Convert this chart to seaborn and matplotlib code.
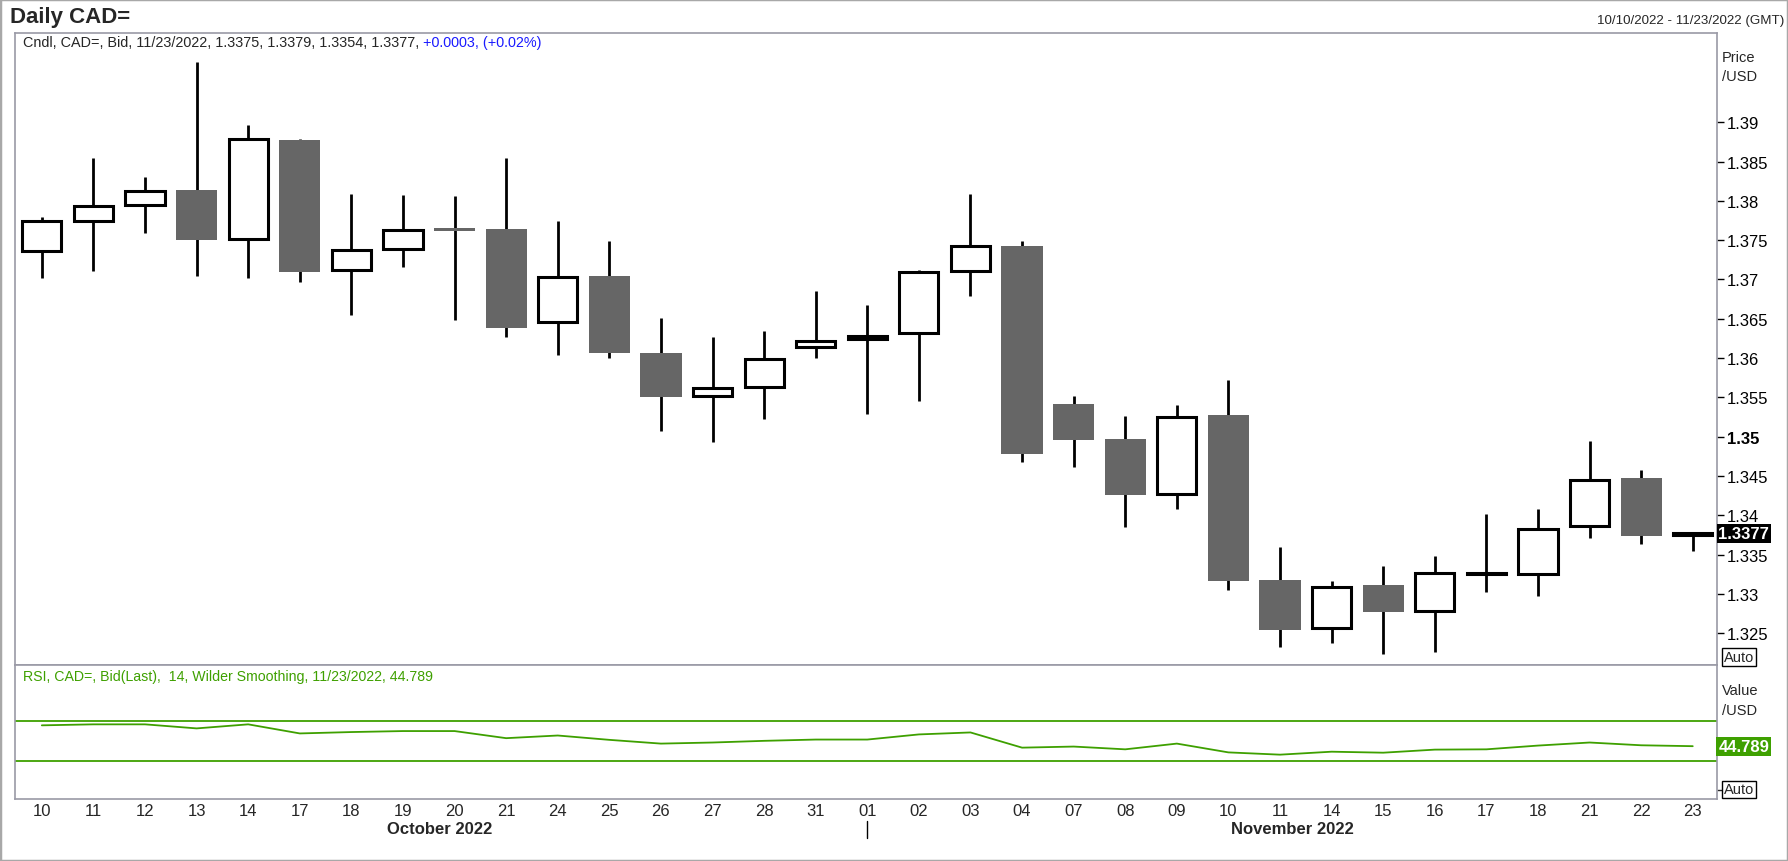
import numpy as np
import pandas as pd
import seaborn as sns
import matplotlib
matplotlib.use("Agg")
import matplotlib.pyplot as plt
import matplotlib.transforms as mtransforms
from matplotlib.lines import Line2D
from matplotlib.patches import Rectangle

# =========================
# DATA
# =========================
days = ["10", "11", "12", "13", "14", "17", "18", "19", "20", "21", "24", "25", "26", "27", "28", "31",
        "01", "02", "03", "04", "07", "08", "09", "10", "11", "14", "15", "16", "17", "18", "21", "22", "23"]

opens = [1.3736, 1.3775, 1.3795, 1.3814, 1.3751, 1.3877, 1.3712, 1.3739, 1.3766, 1.3764, 1.3646,
         1.3704, 1.3606, 1.3552, 1.3563, 1.3614, 1.3624, 1.3632, 1.3711, 1.3743, 1.3542, 1.3497,
         1.3427, 1.3527, 1.3318, 1.3256, 1.3311, 1.3278, 1.3325, 1.3325, 1.3386, 1.3448, 1.3375]
highs = [1.3780, 1.3855, 1.3830, 1.3977, 1.3897, 1.3879, 1.3809, 1.3808, 1.3806, 1.3854, 1.3775,
         1.3749, 1.3651, 1.3627, 1.3635, 1.3685, 1.3668, 1.3712, 1.3809, 1.3749, 1.3552, 1.3526,
         1.3540, 1.3572, 1.3360, 1.3316, 1.3335, 1.3348, 1.3401, 1.3408, 1.3495, 1.3457, 1.3379]
lows = [1.3702, 1.3711, 1.3759, 1.3705, 1.3702, 1.3697, 1.3655, 1.3716, 1.3649, 1.3627, 1.3604,
        1.3600, 1.3507, 1.3493, 1.3522, 1.3600, 1.3529, 1.3546, 1.3679, 1.3468, 1.3462, 1.3385,
        1.3408, 1.3305, 1.3232, 1.3237, 1.3224, 1.3226, 1.3302, 1.3297, 1.3371, 1.3363, 1.3354]
closes = [1.3775, 1.3794, 1.3812, 1.3750, 1.3879, 1.3709, 1.3737, 1.3763, 1.3762, 1.3638, 1.3703,
          1.3606, 1.3551, 1.3562, 1.3599, 1.3622, 1.3628, 1.3709, 1.3743, 1.3478, 1.3496, 1.3426,
          1.3525, 1.3317, 1.3254, 1.3309, 1.3277, 1.3326, 1.3326, 1.3383, 1.3445, 1.3374, 1.3377]

rsi = [65.9, 66.9, 66.9, 62.8, 66.9, 57.7, 59.1, 60.1, 60.1, 52.9, 55.6, 51.2, 47.4, 48.5, 50.2, 51.5,
       51.5, 56.7, 58.7, 43.3, 44.4, 41.6, 47.4, 38.5, 36.2, 39.2, 38.2, 41.3, 41.6, 45.4, 48.5, 45.7, 44.789]

price_ticks = [1.325, 1.33, 1.335, 1.34, 1.345, 1.35, 1.355, 1.36, 1.365, 1.37, 1.375, 1.38, 1.385, 1.39]
rsi_levels = [70, 30]

df = pd.DataFrame({"day": days, "open": opens, "high": highs, "low": lows, "close": closes, "rsi": rsi})
df["idx"] = np.arange(len(df))
df["up"] = df["close"] >= df["open"]

# =========================
# STYLE
# =========================
sns.set_style("white")
plt.rcParams["font.family"] = ["Liberation Sans", "DejaVu Sans"]

W, H = 1788, 862
fig = plt.figure(figsize=(W / 100, H / 100), dpi=100)
frame_col = "#9a9aa6"
green = "#3ea000"


def fx(px):
    return px / W


def fy(py):
    return 1 - py / H


ax = fig.add_axes([fx(15), fy(666), fx(1717 - 15), (666 - 34) / H])
ax2 = fig.add_axes([fx(15), fy(800), fx(1717 - 15), (800 - 666) / H], sharex=ax)

# =========================
# CANDLES
# =========================
up = df[df["up"]]
dn = df[~df["up"]]
ax.vlines(df["idx"], df["low"], df["high"], color="black", lw=2.0, zorder=1)
ax.bar(up["idx"], up["close"] - up["open"], bottom=up["open"], width=0.76,
       facecolor="white", edgecolor="black", linewidth=2.2, zorder=2)
ax.bar(dn["idx"], dn["close"] - dn["open"], bottom=dn["open"], width=0.8,
       color="#666666", linewidth=0, zorder=2)

ax.set_xlim(-0.52, 32.47)
ax.set_ylim(1.32095, 1.40136)
ax.yaxis.tick_right()
ax.set_yticks(price_ticks)
ax.set_yticklabels([f"{t:g}" for t in price_ticks])
ax.tick_params(axis="y", right=True, left=False, length=5, width=1, pad=2, labelsize=12, colors="black")
ax.tick_params(axis="x", bottom=False, labelbottom=False)
for lab in ax.get_yticklabels():
    if lab.get_text() == "1.35":
        lab.set_fontweight("bold")
for s in ax.spines.values():
    s.set_color(frame_col)
    s.set_linewidth(1.2)

# =========================
# RSI
# =========================
sns.lineplot(data=df, x="idx", y="rsi", ax=ax2, color=green, lw=1.3)
for lv in rsi_levels:
    ax2.axhline(lv, color=green, lw=1.3)
ax2.set_ylim(-8.7, 127)
ax2.yaxis.tick_right()
# tick marks only: their labels sit under the value / Auto boxes in the original
ax2.set_yticks([0, 40])
ax2.set_yticklabels([])
ax2.tick_params(axis="y", right=True, left=False, length=5, width=1, pad=2)
ax2.set_xticks(df["idx"])
ax2.set_xticklabels(days)
ax2.tick_params(axis="x", bottom=False, length=0, pad=3, labelsize=12)
ax2.set_xlabel("")
ax2.set_ylabel("")
for s in ax2.spines.values():
    s.set_color(frame_col)
    s.set_linewidth(1.2)

# =========================
# TEXTS
# =========================
fig.text(fx(10), fy(17), "Daily CAD=", fontsize=16, fontweight="bold", va="center")
fig.text(fx(1784), fy(21), "10/10/2022 - 11/23/2022 (GMT)", fontsize=9.6, ha="right", va="center")

t1 = ax.text(fx(23), fy(43), "Cndl, CAD=, Bid, 11/23/2022, 1.3375, 1.3379, 1.3354, 1.3377, ",
             transform=fig.transFigure, fontsize=10.4, va="center")
ax.annotate("+0.0003, (+0.02%)", xy=(1, 0), xycoords=t1, fontsize=10.4, color="#1a1aff",
            ha="left", va="bottom")
ax2.text(fx(23), fy(677), "RSI, CAD=, Bid(Last),  14, Wilder Smoothing, 11/23/2022, 44.789",
         transform=fig.transFigure, fontsize=10.2, va="center", color=green)

fig.text(fx(1722), fy(58), "Price", fontsize=10.5, va="center")
fig.text(fx(1722), fy(77), "/USD", fontsize=10.5, va="center")
fig.text(fx(1722), fy(691), "Value", fontsize=10.5, va="center")
fig.text(fx(1722), fy(711), "/USD", fontsize=10.5, va="center")

auto_box = dict(boxstyle="square,pad=0.12", fc="white", ec="black", lw=1)
fig.text(fx(1724), fy(658), "Auto", fontsize=10.5, va="center", bbox=auto_box, zorder=5)
fig.text(fx(1724), fy(790.5), "Auto", fontsize=10.5, va="center", bbox=auto_box, zorder=5)

ax.annotate(f"{closes[-1]:.4f}", xy=(1, closes[-1]), xycoords=("axes fraction", "data"),
            xytext=(1, 0), textcoords="offset points", ha="left", va="center",
            fontsize=12, fontweight="bold", color="white", annotation_clip=False,
            bbox=dict(boxstyle="square,pad=0.1", fc="black", ec="none"), zorder=6)
ax2.annotate(f"{rsi[-1]:.3f}", xy=(1, rsi[-1]), xycoords=("axes fraction", "data"),
             xytext=(1, 0), textcoords="offset points", ha="left", va="center",
             fontsize=12, fontweight="bold", color="white", annotation_clip=False,
             bbox=dict(boxstyle="square,pad=0.12", fc=green, ec="none"), zorder=6)

# month labels and separator
blend = mtransforms.blended_transform_factory(ax2.transData, fig.transFigure)
fig.text(7.72, fy(830), "October 2022", transform=blend, fontsize=12, fontweight="bold",
         ha="center", va="center")
fig.text(24.23, fy(830), "November 2022", transform=blend, fontsize=12, fontweight="bold",
         ha="center", va="center")
fig.add_artist(Line2D([16, 16], [fy(822), fy(839)], transform=blend, color="black", lw=1))

# window border
fig.add_artist(Rectangle((0, 0), 1, 1, transform=fig.transFigure, fill=False,
                         edgecolor="#a8a8a8", lw=2.5))

fig.savefig("out.png", dpi=100)
